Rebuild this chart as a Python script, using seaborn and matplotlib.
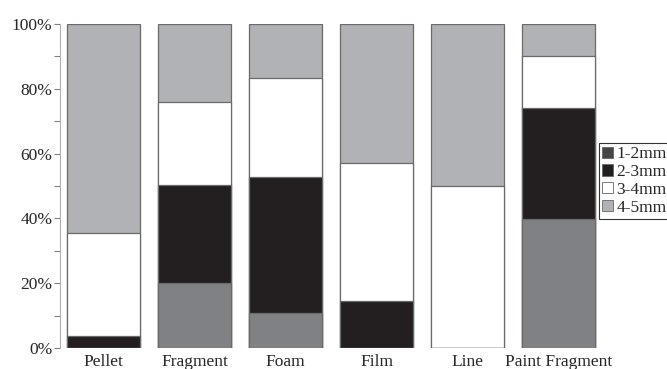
import matplotlib.pyplot as plt
import seaborn as sns
import pandas as pd
import numpy as np
from matplotlib.patches import Patch
from matplotlib.ticker import MultipleLocator, PercentFormatter

categories = ["Pellet", "Fragment", "Foam", "Film", "Line", "Paint Fragment"]
sizes = ["1-2mm", "2-3mm", "3-4mm", "4-5mm"]
s_1_2 = [0.0, 20.2, 10.7, 0.0, 0.0, 39.9]
s_2_3 = [3.7, 30.0, 42.2, 14.4, 0.0, 34.3]
s_3_4 = [31.8, 25.8, 30.3, 42.8, 50.1, 15.8]
s_4_5 = [64.5, 24.0, 16.8, 42.8, 49.9, 10.0]

bar_colors = ["#808184", "#231f20", "#ffffff", "#b1b2b5"]
legend_colors = ["#454545", "#231f20", "#ffffff", "#b1b2b5"]

df = pd.DataFrame({"category": categories, "1-2mm": s_1_2, "2-3mm": s_2_3,
                   "3-4mm": s_3_4, "4-5mm": s_4_5})
cum = df[sizes].cumsum(axis=1)

sns.set_style("white")
plt.rcParams['font.family'] = ['Liberation Serif', 'DejaVu Serif']

fig, ax = plt.subplots(figsize=(6.67, 3.69), dpi=100)
fig.subplots_adjust(left=0.09, right=0.8996, top=0.935, bottom=0.0569)

# draw cumulative bars from the top layer down so each covers the one below
for size, color in zip(reversed(sizes), reversed(bar_colors)):
    sns.barplot(x=df["category"], y=cum[size], color=color, width=0.8,
                edgecolor="#6a6a6a", linewidth=0.9, saturation=1, ax=ax)

ax.set_xlim(-0.478, 5.456)
ax.set_ylim(0, 100)
ax.set_xlabel("")
ax.set_ylabel("")
ax.yaxis.set_major_locator(MultipleLocator(20))
ax.yaxis.set_minor_locator(MultipleLocator(10))
ax.yaxis.set_major_formatter(PercentFormatter(decimals=0))
ax.tick_params(axis="y", which="both", left=True, length=4, width=0.8,
               color="#808080", labelsize=12.5, pad=1.5)
ax.tick_params(axis="x", bottom=False, labelsize=12.5, pad=0.5)

for side in ["top", "right", "bottom"]:
    ax.spines[side].set_visible(False)
ax.spines["left"].set_color("#b0b0b0")
ax.spines["left"].set_linewidth(0.8)

handles = [Patch(facecolor=c, edgecolor="#666666", linewidth=0.6) for c in legend_colors]
leg = ax.legend(handles, sizes, loc="upper left", bbox_to_anchor=(0.998, 0.633),
                fontsize=12.5, frameon=True, fancybox=False, borderpad=0.2,
                handlelength=0.6, handleheight=0.6, handletextpad=0.2,
                labelspacing=0.1, borderaxespad=0)
leg.get_frame().set_edgecolor("black")
leg.get_frame().set_linewidth(0.8)

plt.savefig("out.png", dpi=100)
